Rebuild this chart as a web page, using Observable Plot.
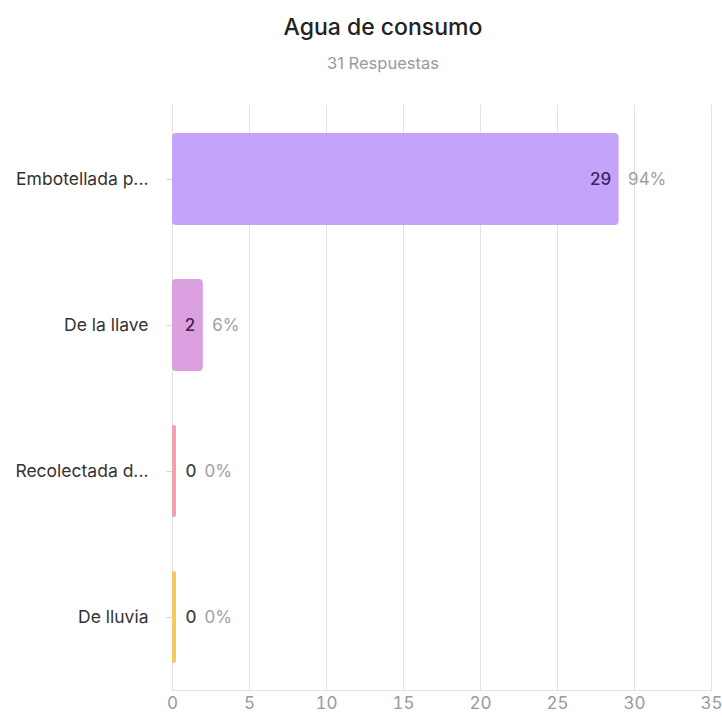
<!DOCTYPE html>
<html>
<head>
<meta charset="utf-8">
<script src="https://cdn.jsdelivr.net/npm/d3@7"></script>
<script src="https://cdn.jsdelivr.net/npm/@observablehq/plot@0.6"></script>
<style>
  body { margin: 0; background: #fff; font-family: Inter, "Noto Sans", sans-serif; }
  #head { height: 90px; position: relative; width: 722px; }
  #title { position: absolute; left: 44px; width: 678px; top: 12px; line-height: 30px; text-align: center; font-size: 23px; color: #222; font-weight: 500; }
  #sub { position: absolute; left: 44px; width: 678px; top: 53px; line-height: 20px; text-align: center; font-size: 16.5px; color: #9a9a9a; }
</style>
</head>
<body>
<div id="head"><div id="title">Agua de consumo</div><div id="sub">31 Respuestas</div></div>
<div id="chart"></div>
<script>
const categories = ["Embotellada p...", "De la llave", "Recolectada d...", "De lluvia"];
const counts = [29, 2, 0, 0];
const percents = ["94%", "6%", "0%", "0%"];
const xTicks = [0, 5, 10, 15, 20, 25, 30, 35];

const barColors = ["#c4a3fb", "#dba0e0", "#f5a0ae", "#f6c75c"];
const countColors = ["#3b2566", "#4a2150", "#444", "#444"];

const data = categories.map((c, i) => ({cat: c, n: counts[i], pct: percents[i], color: barColors[i], tcolor: countColors[i]}));
const nonzero = data.filter(d => d.n > 0);
const zero = data.filter(d => d.n === 0);

const chart = Plot.plot({
  width: 722,
  height: 627,
  marginTop: 15,
  marginBottom: 27,
  marginLeft: 172,
  marginRight: 11,
  style: {fontFamily: "Inter, 'Noto Sans', sans-serif", background: "#fff"},
  x: {domain: [0, 35], ticks: xTicks, label: null},
  y: {domain: categories, paddingInner: 0.37, paddingOuter: 0.185, label: null},
  marks: [
    Plot.gridX(xTicks, {stroke: "#e2e2e2", strokeOpacity: 1}),
    Plot.frame({anchor: "bottom", stroke: "#e2e2e2"}),
    Plot.axisX({ticks: xTicks, tickSize: 0, tickPadding: 6, fontSize: 17, fill: "#9a9a9a"}),
    Plot.axisY({tickSize: 6, tickPadding: 18, fontSize: 17.5, stroke: "#d8d8d8", fill: "#333"}),
    Plot.barX(nonzero, {x1: 0, x2: "n", y: "cat", fill: "color", rx: 4}),
    Plot.barX(zero, {x1: 0, x2: "n", y: "cat", fill: "color", insetRight: -4, rx: 2}),
    Plot.text(nonzero, {x: "n", y: "cat", text: d => String(d.n), textAnchor: "end", dx: -8, fill: "tcolor", fontSize: 17, fontWeight: 500}),
    Plot.text(nonzero, {x: "n", y: "cat", text: "pct", textAnchor: "start", dx: 9, fill: "#a0a0a0", fontSize: 17}),
    Plot.text(zero, {x: "n", y: "cat", text: d => String(d.n), textAnchor: "start", dx: 13, fill: "tcolor", fontSize: 17, fontWeight: 500}),
    Plot.text(zero, {x: "n", y: "cat", text: "pct", textAnchor: "start", dx: 32, fill: "#a0a0a0", fontSize: 17})
  ]
});
document.getElementById("chart").appendChild(chart);
</script>
</body>
</html>
